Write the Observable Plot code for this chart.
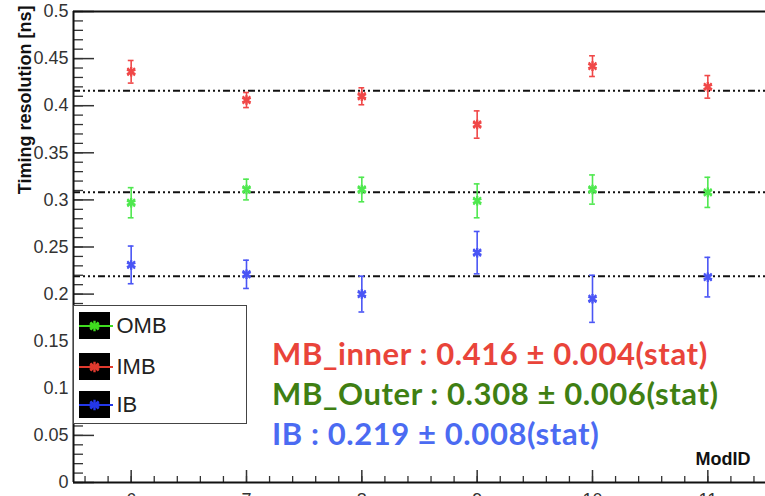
<!DOCTYPE html>
<html>
<head>
<meta charset="utf-8">
<script src="https://cdn.jsdelivr.net/npm/d3@7"></script>
<script src="https://cdn.jsdelivr.net/npm/@observablehq/plot@0.6"></script>
<style>
  body { margin: 0; background: #fff; }
  #wrap { position: relative; width: 765px; height: 496px; overflow: hidden; }
  #legend { position: absolute; left: 73px; top: 305px; width: 174px; height: 119px;
            border: 1.5px solid #444; background: #fff; box-sizing: border-box; }
  .lrow { position: absolute; left: 4.5px; height: 27px; }
  .lrow svg { position: absolute; left: 0; top: 0; }
  .lrow span { position: absolute; left: 38px; top: 0px; font: 22px "Liberation Sans", Arial, sans-serif; color: #222; line-height: 27px; }
  .ann { position: absolute; left: 272px; font-family: Lato, "Open Sans", sans-serif; font-weight: bold; white-space: nowrap; font-size: 31px; letter-spacing: 0.6px; line-height: 1; }
</style>
</head>
<body>
<div id="wrap"></div>
<script>
// ---- data ----
const modID   = [6, 7, 8, 9, 10, 11];
const imbVal  = [0.436, 0.406, 0.410, 0.380, 0.442, 0.420];
const imbErr  = [0.012, 0.008, 0.009, 0.0145, 0.011, 0.012];
const ombVal  = [0.297, 0.311, 0.311, 0.299, 0.311, 0.308];
const ombErr  = [0.016, 0.011, 0.013, 0.018, 0.0155, 0.016];
const ibVal   = [0.231, 0.221, 0.200, 0.244, 0.195, 0.218];
const ibErr   = [0.020, 0.015, 0.019, 0.0225, 0.025, 0.021];
const fitVal  = [0.416, 0.308, 0.219];
const seriesNames  = ["OMB", "IMB", "IB"];
const seriesColors = ["#4fe84f", "#f04848", "#4a55f5"];
const legendColors = ["#3fdc1f", "#e03a2e", "#2438e8"];
const yTickVals = [0, 0.05, 0.1, 0.15, 0.2, 0.25, 0.3, 0.35, 0.4, 0.45, 0.5];
const xTickVals = [6, 7, 8, 9, 10, 11];
const summaryLines  = ["MB_inner : 0.416 ± 0.004(stat)", "MB_Outer : 0.308 ± 0.006(stat)", "IB : 0.219 ± 0.008(stat)"];
const summaryColors = ["#e9443a", "#3f7f13", "#4b6bf2"];
const yLabel = "Timing resolution [ns]";
const xLabel = "ModID";

// ---- table ----
const rows = [];
const vals = {OMB: ombVal, IMB: imbVal, IB: ibVal};
const errs = {OMB: ombErr, IMB: imbErr, IB: ibErr};
seriesNames.forEach((s, k) => {
  modID.forEach((m, i) => rows.push({series: s, x: m, y: vals[s][i], lo: vals[s][i] - errs[s][i], hi: vals[s][i] + errs[s][i], color: seriesColors[k]}));
});

const W = 765, H = 496, mL = 73, mR = 0, mT = 11, mB = 14;
const frameW = W - mL - mR, frameH = H - mT - mB;
const minorY = d3.range(0, 0.5001, 0.01);
const minorX = d3.range(5.6, 11.5, 0.2);

const chart = Plot.plot({
  width: W, height: H,
  marginLeft: mL, marginRight: mR, marginTop: mT, marginBottom: mB,
  x: {domain: [5.5, 11.5]},
  y: {domain: [0, 0.5]},
  style: {fontFamily: "'Liberation Sans', Arial, sans-serif", background: "#fff"},
  marks: [
    // fit lines
    Plot.ruleY(fitVal, {stroke: "#111", strokeWidth: 2, strokeDasharray: "7,3,2,3,2,3,2,3"}),
    // error bars
    Plot.ruleX(rows, {x: "x", y1: "lo", y2: "hi", stroke: "color", strokeWidth: 1.6}),
    Plot.ruleY(rows, {y: "hi", x1: d => d.x - 0.025, x2: d => d.x + 0.025, stroke: "color", strokeWidth: 1.6}),
    Plot.ruleY(rows, {y: "lo", x1: d => d.x - 0.025, x2: d => d.x + 0.025, stroke: "color", strokeWidth: 1.6}),
    // markers
    Plot.dot(rows, {x: "x", y: "y", symbol: "asterisk", r: 4.5, stroke: "color", strokeWidth: 2.4}),
    Plot.dot(rows, {x: "x", y: "y", symbol: "times", r: 3.5, stroke: "color", strokeWidth: 2}),
    // y ticks (inside)
    Plot.tickY(yTickVals, {y: d => d, stroke: "#333", strokeWidth: 1.5, insetRight: frameW - 21}),
    Plot.tickY(minorY, {y: d => d, stroke: "#333", strokeWidth: 1.3, insetRight: frameW - 10}),
    // x ticks (inside)
    Plot.tickX(xTickVals, {x: d => d, stroke: "#333", strokeWidth: 1.5, insetTop: frameH - 12}),
    Plot.tickX(minorX, {x: d => d, stroke: "#333", strokeWidth: 1.3, insetTop: frameH - 6}),
    // axes labels
    Plot.axisY(yTickVals, {tickSize: 0, tickPadding: 5, fontSize: 18, fill: "#333", label: null, tickFormat: d => String(d)}),
    Plot.axisX(xTickVals, {tickSize: 0, tickPadding: 11, fontSize: 18, fill: "#333", label: null, tickFormat: d => String(d)}),
    // frame lines
    Plot.ruleX([5.5], {stroke: "#111", strokeWidth: 2}),
    Plot.ruleY([0], {stroke: "#111", strokeWidth: 2}),
    Plot.ruleY([0.5], {stroke: "#111", strokeWidth: 2}),
    // axis titles
    Plot.text([xLabel], {frameAnchor: "bottom-right", text: d => d, dx: -15, dy: -18, fontSize: 18, fontWeight: "bold", fill: "#111", textAnchor: "end"}),
    Plot.text([yLabel], {frameAnchor: "top-left", text: d => d, rotate: -90, dx: -43, dy: -6, fontSize: 18, fontWeight: "bold", fill: "#111", textAnchor: "end", lineAnchor: "bottom"})
  ]
});

const wrap = document.getElementById("wrap");
wrap.appendChild(chart);

// legend
const leg = document.createElement("div");
leg.id = "legend";
const rowTops = [5.5, 46.5, 84.5];
seriesNames.forEach((s, k) => {
  const r = document.createElement("div");
  r.className = "lrow";
  r.style.top = rowTops[k] + "px";
  const svg = d3.create("svg").attr("width", 36).attr("height", 27);
  svg.append("rect").attr("x", 0).attr("y", 0).attr("width", 31).attr("height", 27).attr("fill", "#000");
  svg.append("line").attr("x1", 0).attr("x2", 34).attr("y1", 14).attr("y2", 14).attr("stroke", legendColors[k]).attr("stroke-width", 2);
  svg.append("path").attr("d", d3.symbol(d3.symbolAsterisk, 80)()).attr("transform", "translate(15.5,14)").attr("stroke", legendColors[k]).attr("stroke-width", 2.4);
  svg.append("path").attr("d", d3.symbol(d3.symbolTimes, 40)()).attr("transform", "translate(15.5,14)").attr("stroke", legendColors[k]).attr("stroke-width", 2);
  r.appendChild(svg.node());
  const t = document.createElement("span");
  t.textContent = s;
  r.appendChild(t);
  leg.appendChild(r);
});
wrap.appendChild(leg);

// summary text
const annTops = [337.5, 377.5, 417.5];
summaryLines.forEach((s, k) => {
  const d = document.createElement("div");
  d.className = "ann";
  d.style.top = annTops[k] + "px";
  d.style.color = summaryColors[k];
  d.textContent = s;
  wrap.appendChild(d);
});
</script>
</body>
</html>
